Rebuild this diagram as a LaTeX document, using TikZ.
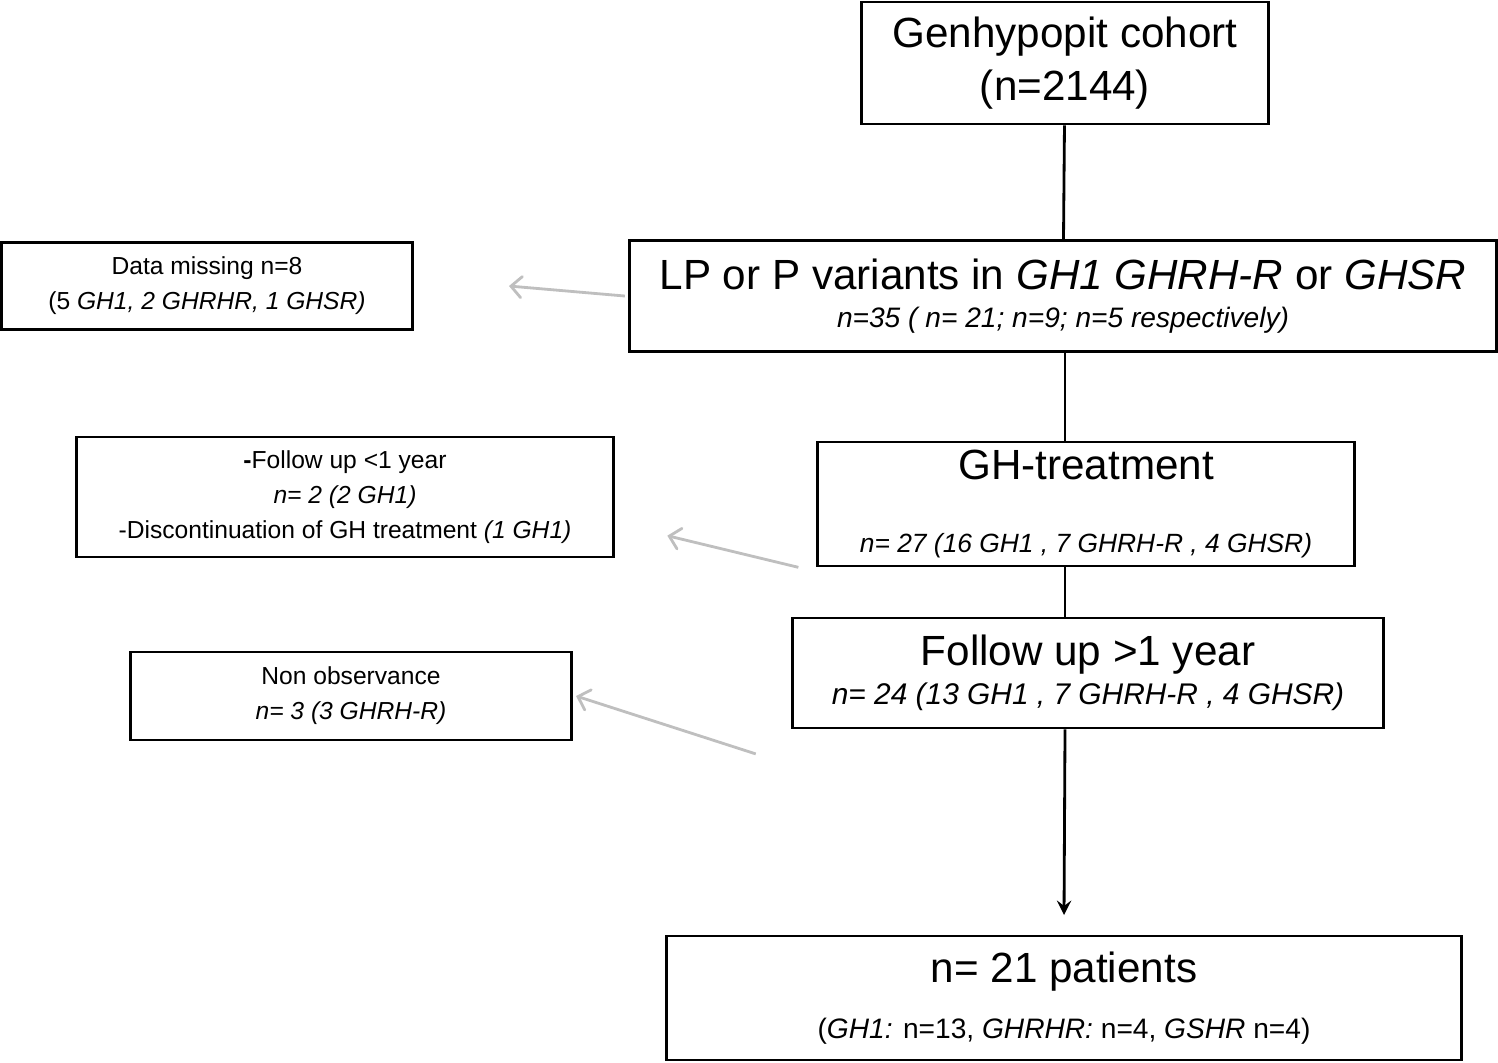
\documentclass[tikz,border=0pt]{standalone}
\usepackage{fontspec}
\setmainfont{Liberation Sans}
\usetikzlibrary{positioning,arrows}
\definecolor{lightline}{gray}{0.75}

\begin{document}
\begin{tikzpicture}[x=0.01cm,y=-0.01cm]

\tikzset{mainbox/.style={draw=black,thick,align=center,inner sep=0pt},
sidebox/.style={draw=black,thick,align=center,inner sep=0pt,font=\fontsize{7}{10}\selectfont},
exclude/.style={->,>=angle 90,draw=lightline,thick}}

\useasboundingbox (0,0) rectangle (1498,1062);

% main column
\node (cohort) [mainbox,minimum width=4.06cm,minimum height=1.22cm,font=\fontsize{12}{15}\selectfont] at (1065,63) {Genhypopit cohort\\(n=2144)};
\node (variants) [mainbox,minimum width=8.67cm,minimum height=1.11cm] at (1063,296) {{\fontsize{12}{15}\selectfont LP or P variants in \textit{GH1 GHRH-R} or \textit{GHSR}}\\[-1pt]{\fontsize{8}{10}\selectfont\itshape n=35 ( n= 21; n=9; n=5 respectively)}};
\node (treat) [mainbox,minimum width=5.37cm,minimum height=1.24cm] at (1086,504) {{\fontsize{12}{15}\selectfont GH-treatment}\\[9pt]{\fontsize{7.5}{10}\selectfont\itshape n= 27 (16 GH1 , 7 GHRH-R , 4 GHSR)}};
\node (follow) [mainbox,minimum width=5.91cm,minimum height=1.10cm] at (1088,673) {{\fontsize{12}{15}\selectfont Follow up >1 year}\\[-1pt]{\fontsize{8.5}{11}\selectfont\itshape n= 24 (13 GH1 , 7 GHRH-R , 4 GHSR)}};
\node (final) [mainbox,minimum width=7.95cm,minimum height=1.24cm] at (1064,998) {{\fontsize{12}{15}\selectfont n= 21 patients}\\[4pt]{\fontsize{8}{10}\selectfont(\textit{GH1:} n=13, \textit{GHRHR:} n=4, \textit{GSHR} n=4)}};
\coordinate (finaltop) at (1064,915);

% excluded
\node (missing) [sidebox,minimum width=4.11cm,minimum height=0.87cm] at (207,286) {Data missing n=8\\(5 \textit{GH1, 2 GHRHR, 1 GHSR)}};
\node (short) [sidebox,minimum width=5.36cm,minimum height=1.20cm] at (345,497) {\textbf{-}Follow up <1 year\\\textit{n= 2 (2 GH1)}\\-Discontinuation of GH treatment \textit{(1 GH1)}};
\node (nonobs) [sidebox,minimum width=4.40cm,minimum height=0.88cm] at (351,696) {Non observance\\\textit{n= 3 (3 GHRH-R)}};

% edges
\draw[thick] (cohort) -- (variants);
\draw[thick] (variants.south -| cohort) -- (treat.north -| cohort);
\draw[thick] (treat.south -| cohort) -- (follow.north -| cohort);
\draw[thick,->,>=stealth] (follow.south -| cohort) -- (finaltop);

\draw[exclude] (variants.west) ++(-3,0) -- ([xshift=27]missing.east);
\draw[exclude] ([xshift=-5,yshift=-18]treat.west) -- ([xshift=15,yshift=-11]short.east);
\draw[exclude] ([xshift=-10,yshift=-23]follow.west) -- ([xshift=1]nonobs.east);

\end{tikzpicture}
\end{document}
